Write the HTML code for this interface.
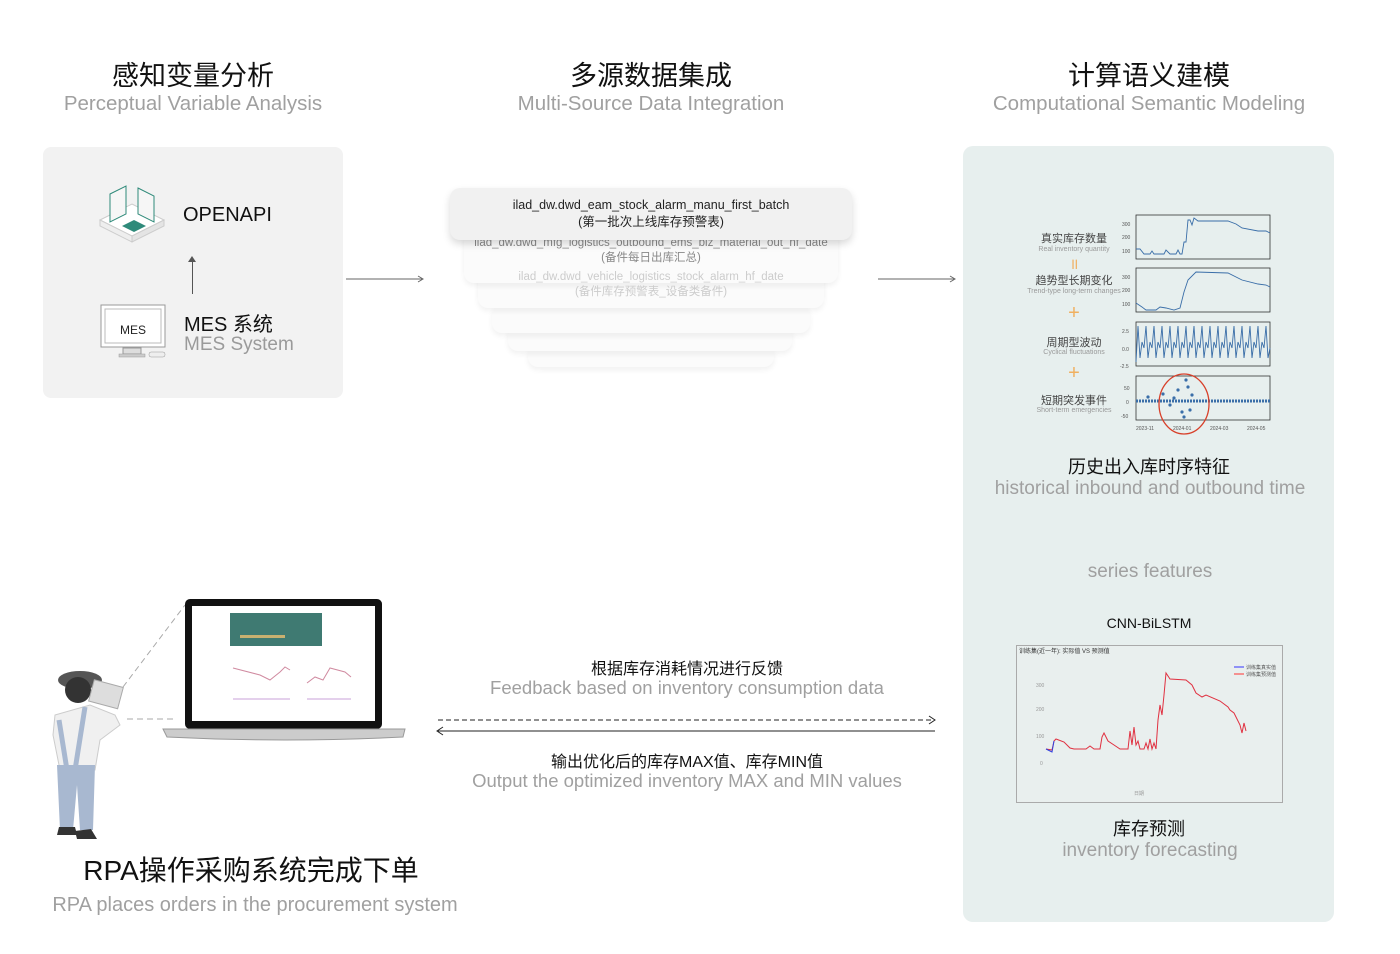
<!DOCTYPE html>
<html><head><meta charset="utf-8"><style>
*{margin:0;padding:0;box-sizing:border-box}
body{width:1400px;height:954px;background:#fff;position:relative;overflow:hidden;font-family:"Liberation Sans","Noto Sans CJK SC",sans-serif}
.a{position:absolute}
.c{position:absolute;transform:translateX(-50%);white-space:nowrap;text-align:center}
.t{font-size:27px;color:#111}
.e{font-size:20.5px;color:#a0a0a0}
.card{position:absolute;border-radius:10px;background:#fbfbfb;box-shadow:0 3px 6px rgba(0,0,0,.06)}
</style></head><body>
<div class="c t" style="left:193px;top:54px">感知变量分析</div>
<div class="c e" style="left:193px;top:92px">Perceptual Variable Analysis</div>
<div class="c t" style="left:651px;top:54px">多源数据集成</div>
<div class="c e" style="left:651px;top:92px">Multi-Source Data Integration</div>
<div class="c t" style="left:1149px;top:54px">计算语义建模</div>
<div class="c e" style="left:1149px;top:92px">Computational Semantic Modeling</div>

<div class="a" style="left:43px;top:147px;width:300px;height:251px;background:#f2f2f2;border-radius:8px"></div>
<svg class="a" style="left:96px;top:184px" width="72" height="60" viewBox="0 0 72 60">
<polygon points="4,36 36,20 68,36 36,52" fill="#fff" stroke="#ccc"/>
<polygon points="4,36 4,42 36,58 36,52" fill="#eee" stroke="#ccc"/>
<polygon points="68,36 68,42 36,58 36,52" fill="#e4e4e4" stroke="#ccc"/>
<polygon points="14,10 30,2 30,30 14,38" fill="#f6f6f6" stroke="#2f8a7a"/>
<polygon points="42,4 58,12 58,38 42,30" fill="#f6f6f6" stroke="#2f8a7a"/>
<polygon points="26,42 38,36 50,42 38,48" fill="#2f8a7a"/>
</svg>
<div class="a" style="left:183px;top:204px;font-size:20px;color:#111">OPENAPI</div>
<div class="a" style="left:192px;top:258px;width:1px;height:36px;background:#555"></div>
<div class="a" style="left:188px;top:256px;width:0;height:0;border-left:4px solid transparent;border-right:4px solid transparent;border-bottom:6px solid #555"></div>
<svg class="a" style="left:99px;top:304px" width="70" height="56" viewBox="0 0 70 56">
<rect x="2" y="1" width="64" height="42" fill="#fff" stroke="#999"/>
<rect x="6" y="5" width="56" height="34" fill="#fff" stroke="#bbb"/>
<text x="34" y="30" font-size="12" text-anchor="middle" font-family="Liberation Sans" fill="#222">MES</text>
<rect x="24" y="44" width="18" height="6" fill="#ddd" stroke="#999"/>
<rect x="20" y="50" width="26" height="3" fill="#ccc" stroke="#999" stroke-width=".5"/>
<rect x="50" y="48" width="16" height="5" rx="2" fill="#eee" stroke="#999" stroke-width=".5"/>
</svg>
<div class="a" style="left:184px;top:308px;font-size:20px;color:#111">MES 系统</div>
<div class="a" style="left:184px;top:334px;font-size:19px;color:#9a9a9a">MES System</div>

<svg class="a" style="left:340px;top:272px" width="620" height="14">
<line x1="6" y1="7" x2="82" y2="7" stroke="#666"/><path d="M78,4 L83,7 L78,10" fill="none" stroke="#666"/>
<line x1="538" y1="7" x2="614" y2="7" stroke="#666"/><path d="M610,4 L615,7 L610,10" fill="none" stroke="#666"/>
</svg>

<div class="card" style="left:528px;top:345px;width:246px;height:22px"></div>
<div class="card" style="left:508px;top:325px;width:284px;height:26px"></div>
<div class="card" style="left:492px;top:305px;width:318px;height:28px"></div>
<div class="card" style="left:478px;top:250px;width:346px;height:58px"></div>
<div class="card" style="left:464px;top:225px;width:374px;height:58px"></div>
<div class="c" style="left:651px;top:236px;font-size:11.5px;color:#888;line-height:15px">ilad_dw.dwd_mfg_logistics_outbound_ems_biz_material_out_hf_date<br>(备件每日出库汇总)</div>
<div class="c" style="left:651px;top:270px;font-size:11.5px;color:#ccc;line-height:15px">ilad_dw.dwd_vehicle_logistics_stock_alarm_hf_date<br>(备件库存预警表_设备类备件)</div>
<div class="card" style="left:450px;top:188px;width:402px;height:52px;background:#f1f1f1;box-shadow:0 4px 8px rgba(0,0,0,.15)"></div>
<div class="c" style="left:651px;top:197px;font-size:12.5px;color:#222;line-height:17px">ilad_dw.dwd_eam_stock_alarm_manu_first_batch<br>(第一批次上线库存预警表)</div>

<div class="a" style="left:963px;top:146px;width:371px;height:776px;background:#e7efee;border-radius:10px"></div>
<div class="c" style="left:1074px;top:230px;font-size:11px;color:#444">真实库存数量</div>
<div class="c" style="left:1074px;top:246px;font-size:7px;color:#999">Real inventory quantity</div>
<div class="c" style="left:1074px;top:254px;font-size:15px;color:#f0b060">॥</div>
<div class="c" style="left:1074px;top:272px;font-size:11px;color:#444">趋势型长期变化</div>
<div class="c" style="left:1074px;top:288px;font-size:7px;color:#999">Trend-type long-term changes</div>
<div class="c" style="left:1074px;top:302px;font-size:20px;color:#f0b060">+</div>
<div class="c" style="left:1074px;top:334px;font-size:11px;color:#444">周期型波动</div>
<div class="c" style="left:1074px;top:349px;font-size:7px;color:#999">Cyclical fluctuations</div>
<div class="c" style="left:1074px;top:362px;font-size:20px;color:#f0b060">+</div>
<div class="c" style="left:1074px;top:392px;font-size:11px;color:#444">短期突发事件</div>
<div class="c" style="left:1074px;top:407px;font-size:7px;color:#999">Short-term emergencies</div>
<svg class="a" style="left:1118px;top:212px" width="160" height="225" font-family="Liberation Sans" font-size="5" fill="#555">
<g fill="none" stroke="#333" stroke-width=".8">
<rect x="18" y="3" width="134" height="44"/><rect x="18" y="56" width="134" height="44"/><rect x="18" y="110" width="134" height="44"/><rect x="18" y="164" width="134" height="44"/></g>
<text x="4" y="14">300</text><text x="4" y="27">200</text><text x="4" y="41">100</text>
<text x="4" y="67">300</text><text x="4" y="80">200</text><text x="4" y="94">100</text>
<text x="4" y="121">2.5</text><text x="4" y="139">0.0</text><text x="2" y="156">-2.5</text>
<text x="6" y="178">50</text><text x="8" y="192">0</text><text x="3" y="206">-50</text>
<text x="18" y="218">2023-11</text><text x="55" y="218">2024-01</text><text x="92" y="218">2024-03</text><text x="129" y="218">2024-05</text>
<g fill="none" stroke="#3a6ea8" stroke-width=".9">
<path d="M18,37 L22,37 L26,42 L32,42 L34,39 L36,42 L46,42 L48,38 L52,42 L58,42 L60,38 L62,42 L64,42 L66,30 L68,30 L70,8 L72,8 L74,13 L76,6 L80,9 L110,9 L118,12 L124,16 L140,19 L148,19 L152,21"/>
<path d="M18,91 L24,95 L28,98 L38,98 L42,95 L48,96 L56,98 L62,96 L66,80 L70,68 L78,60 L110,61 L124,68 L140,72 L148,73 L152,75"/>
<path d="M18,150 L20,114 L22,146 L24,130 L26,136 L28,114 L30,146 L32,130 L34,136 L36,114 L38,146 L40,130 L42,136 L44,114 L46,146 L48,130 L50,136 L52,114 L54,146 L56,130 L58,136 L60,114 L62,146 L64,130 L66,136 L68,114 L70,146 L72,130 L74,136 L76,114 L78,146 L80,130 L82,136 L84,114 L86,146 L88,130 L90,136 L92,114 L94,146 L96,130 L98,136 L100,114 L102,146 L104,130 L106,136 L108,114 L110,146 L112,130 L114,136 L116,114 L118,146 L120,130 L122,136 L124,114 L126,146 L128,130 L130,136 L132,114 L134,146 L136,130 L138,136 L140,114 L142,146 L144,130 L146,136 L148,114 L150,146 L152,136"/>
<path d="M18,189 L152,189" stroke-width="3" stroke-dasharray="2 1"/></g>
<g fill="#3a6ea8"><circle cx="30" cy="185" r="1.6"/><circle cx="45" cy="182" r="1.6"/><circle cx="52" cy="193" r="1.6"/><circle cx="60" cy="178" r="1.6"/><circle cx="64" cy="200" r="1.6"/><circle cx="66" cy="205" r="1.6"/><circle cx="68" cy="168" r="1.6"/><circle cx="70" cy="175" r="1.6"/><circle cx="72" cy="198" r="1.6"/><circle cx="74" cy="183" r="1.6"/><circle cx="56" cy="186" r="1.6"/></g>
<ellipse cx="66" cy="192" rx="25" ry="30" fill="none" stroke="#d8402a" stroke-width="1.3"/>
</svg>
<div class="c" style="left:1149px;top:453px;font-size:18px;color:#111">历史出入库时序特征</div>
<div class="c e" style="left:1150px;top:478px;font-size:19px">historical inbound and outbound time</div>
<div class="c e" style="left:1150px;top:561px;font-size:19px">series features</div>
<div class="c" style="left:1149px;top:615px;font-size:14px;color:#111">CNN-BiLSTM</div>
<svg class="a" style="left:1016px;top:645px" width="267" height="158" font-family="Liberation Sans,Noto Sans CJK SC" font-size="5">
<rect x=".5" y=".5" width="266" height="157" fill="#e9efee" stroke="#aaa"/>
<text x="3" y="8" fill="#333" font-size="6">训练集(近一年): 实际值 VS 预测值</text>
<line x1="218" y1="22" x2="228" y2="22" stroke="#33f"/><text x="230" y="24" fill="#555">训练集真实值</text>
<line x1="218" y1="29" x2="228" y2="29" stroke="#f33"/><text x="230" y="31" fill="#555">训练集预测值</text>
<path d="M30,104 L36,105 L38,96 L40,94 L48,97 L54,103 L58,104 L70,104 L74,101 L78,104 L84,104 L86,92 L88,88 L92,96 L98,100 L104,104 L112,104 L114,86 L116,100 L118,82 L120,100 L122,96 L124,104 L128,104 L130,98 L132,104 L134,94 L136,104 L138,98 L140,104 L142,75 L144,60 L146,70 L148,50 L150,28 L154,34 L170,35 L176,40 L180,48 L186,52 L190,50 L204,56 L212,62 L214,65 L218,68 L224,80 L226,88 L228,78 L230,86" fill="none" stroke="#e03040" stroke-width="1"/>
<path d="M30,104 L36,107 L38,96" fill="none" stroke="#3040e0" stroke-width="1"/>
<g fill="#999"><text x="20" y="42">300</text><text x="20" y="66">200</text><text x="20" y="93">100</text><text x="24" y="120">0</text><text x="118" y="150">日期</text></g>
</svg>
<div class="c" style="left:1149px;top:815px;font-size:18px;color:#111">库存预测</div>
<div class="c e" style="left:1150px;top:840px;font-size:19px">inventory forecasting</div>

<div class="c" style="left:687px;top:655px;font-size:16px;color:#111">根据库存消耗情况进行反馈</div>
<div class="c e" style="left:687px;top:677px;font-size:18.5px">Feedback based on inventory consumption data</div>
<svg class="a" style="left:432px;top:712px" width="510" height="26">
<line x1="6" y1="8" x2="502" y2="8" stroke="#222" stroke-dasharray="5 3"/><path d="M497,4 L503,8 L497,12" fill="none" stroke="#222"/>
<line x1="6" y1="19" x2="503" y2="19" stroke="#222"/><path d="M11,15 L5,19 L11,23" fill="none" stroke="#222"/>
</svg>
<div class="c" style="left:687px;top:748px;font-size:16px;color:#111">输出优化后的库存MAX值、库存MIN值</div>
<div class="c e" style="left:687px;top:770px;font-size:18.5px">Output the optimized inventory MAX and MIN values</div>

<svg class="a" style="left:45px;top:595px" width="365" height="250">
<line x1="78" y1="92" x2="140" y2="10" stroke="#aaa" stroke-dasharray="6 4"/>
<line x1="82" y1="124" x2="128" y2="124" stroke="#aaa" stroke-dasharray="6 4"/>
<rect x="140" y="4" width="197" height="130" rx="5" fill="#111"/>
<rect x="147" y="11" width="183" height="115" fill="#fff"/>
<rect x="185" y="18" width="92" height="33" fill="#3f7a72"/>
<rect x="195" y="40" width="45" height="3" fill="#c8b070"/>
<path d="M188,73 L215,80 L225,85 L235,77 L240,72 L245,75" fill="none" stroke="#d08aa0"/>
<path d="M262,88 L270,82 L278,85 L285,73 L300,77 L306,82" fill="none" stroke="#d08aa0"/>
<path d="M188,104 L245,104 M262,104 L306,104" stroke="#c8a0d8"/>
<path d="M118,134 L360,134 L358,142 Q240,148 122,142 Z" fill="#ccc" stroke="#999"/>
<ellipse cx="35" cy="85" rx="22" ry="9" fill="#555"/>
<circle cx="33" cy="95" r="13" fill="#333"/>
<rect x="46" y="88" width="30" height="22" fill="#ddd" stroke="#aaa" transform="rotate(15 60 99)"/>
<path d="M10,120 L45,110 L70,120 L75,130 L55,145 L50,175 L15,175 L8,140 Z" fill="#f0f0f0" stroke="#ccc"/>
<path d="M14,125 L22,175 M40,112 L30,175" stroke="#a8b8d0" stroke-width="5"/>
<path d="M12,170 L50,170 L48,235 L35,235 L32,190 L28,235 L15,235 Z" fill="#a8b8d0"/>
<path d="M14,232 L30,232 L32,240 L12,240 Z M30,236 L46,234 L52,244 L32,244 Z" fill="#333"/>
</svg>
<div class="c" style="left:251px;top:849px;font-size:28px;color:#111">RPA操作采购系统完成下单</div>
<div class="c e" style="left:255px;top:894px;font-size:20px">RPA places orders in the procurement system</div>
</body></html>
